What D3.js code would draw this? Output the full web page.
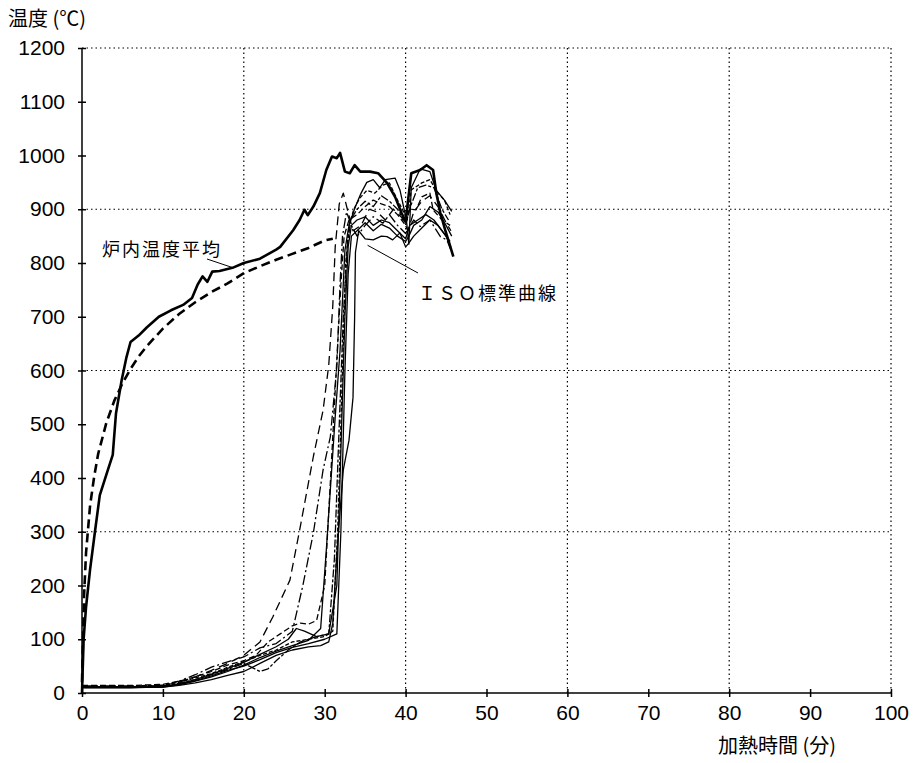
<!DOCTYPE html>
<html><head><meta charset="utf-8">
<script src="https://cdn.jsdelivr.net/npm/d3@7"></script>
<style>body{margin:0;background:#fff}svg{display:block}</style>
</head><body>
<svg id="c" width="924" height="763"></svg>
<script>
const xTicks = [0,10,20,30,40,50,60,70,80,90,100];
const yTicks = [0,100,200,300,400,500,600,700,800,900,1000,1100,1200];
const xGrid = [20,40,60,80,100];
const yGrid = [300,600,900,1200];
const xTitle = "加熱時間 (分)";
const yTitle = "温度 (℃)";
const labelFurnace = "炉内温度平均";
const labelISO = "ＩＳＯ標準曲線";

// 炉内温度平均 (furnace average)
const furnace = [[0,0],[0.2,100],[0.5,160],[1.0,230],[1.6,300],[2.2,368],[3.2,415],[3.8,443],[4.2,520],[4.9,582],[5.5,625],[6.0,653],[7,665],[8,680],[9.5,700],[11,712],[12.5,722],[13.6,735],[14.3,760],[14.9,775],[15.5,765],[16.1,784],[17,785],[18.6,791],[20,800],[22,808],[24,825],[24.5,830],[26.1,861],[26.9,880],[27.5,899],[27.9,889],[28.6,905],[29.4,930],[30.2,973],[30.9,998],[31.5,995],[31.9,1005],[32.5,970],[33.1,967],[33.7,982],[34.4,970],[35.6,970],[36.6,967],[37.7,949],[38.7,923],[39.5,893],[40,877],[40.3,916],[40.7,967],[41.8,973],[42.6,982],[43.4,973],[43.8,930],[44.3,893],[44.9,861],[45.9,812]];

// ISO標準曲線
const iso = [[0,20],[0.25,180],[0.5,261],[1,349],[1.5,402],[2,445],[3,502],[4,544],[5,576],[6,603],[7,626],[8,645],[10,678],[12,705],[14,727],[16,746],[18,762],[20,781],[22,794],[24,806],[26,817],[28,828],[30,842],[31,845]];

// specimen curves
const s1 = [[0,12],[6,12],[10,14],[12,20],[14,30],[16,42],[18,55],[20,70],[22,95],[23.6,142],[25.7,210],[26.9,303],[28.6,440],[29.8,526],[30.5,610],[31,720],[31.3,830],[31.8,910],[32.3,930],[32.8,900],[33.5,860],[34.5,870],[35.5,900],[36.5,895],[37.5,880],[38.5,900],[39.5,885],[40.3,860],[41,895],[42,915],[43,925],[44,905],[45,875],[45.6,860]];
const s2 = [[0,12],[6,12],[10,14],[12,22],[14,34],[16,48],[18,58],[20,67],[22,84],[24,92],[26,115],[27.3,200],[28.6,298],[29.8,415],[30.7,477],[31.5,607],[31.9,762],[32.2,850],[32.7,895],[33.3,870],[34,850],[35,870],[36,886],[37.2,874],[38,890],[39,870],[40,855],[41,880],[41.8,868],[43,880],[44.3,849],[45.1,843],[45.6,824]];
const s3 = [[0,10],[6,10],[10,11],[12,15],[14,22],[16,30],[18,40],[20,52],[22,66],[24,78],[26,88],[28,98],[29.5,120],[30.2,266],[31.3,514],[31.9,638],[32.5,824],[33,870],[33.8,905],[34.5,930],[35.2,950],[36,955],[36.8,940],[37.5,955],[38.7,958],[39.3,936],[40.1,880],[40.4,835],[40.7,940],[41.8,975],[43,970],[43.8,935],[44.8,917],[45.7,896]];
const s4 = [[0,14],[6,14],[10,16],[12,22],[14,30],[16,40],[18,52],[20,60],[21.5,70],[23,95],[24.5,110],[26,125],[27,130],[28,128],[29,135],[30,200],[30.8,420],[31.5,620],[32,760],[32.4,850],[33,880],[34,890],[35,905],[36,917],[37,910],[38,905],[39,890],[40,870],[40.5,900],[41.3,899],[42,923],[43,930],[43.4,899],[44.5,880],[45.5,870]];
const s5 = [[0,10],[6,10],[10,11],[12,14],[14,19],[16,25],[18,33],[20,40],[22,55],[24,70],[26,80],[28,86],[29.5,88],[30.5,95],[31,130],[31.3,210],[31.6,280],[32.3,415],[33,470],[33.5,550],[33.7,700],[33.8,820],[34.2,860],[35,845],[36,843],[37,850],[37.7,849],[38.4,843],[39.3,856],[40,830],[40.3,835],[41,850],[42,865],[43,880],[44,870],[45,850],[45.6,830]];
const s6 = [[0,12],[6,12],[10,13],[12,18],[14,25],[16,34],[18,44],[20,55],[22,40],[23,45],[24,60],[25.5,80],[27,95],[29,105],[30.5,110],[31.2,250],[31.8,500],[32.3,700],[32.8,830],[33.2,880],[34,900],[35,915],[36,905],[37,925],[38,915],[39,900],[40,875],[40.6,905],[41.5,940],[42.5,945],[43.5,940],[44.5,900],[45.3,880]];
const s7 = [[0,11],[6,11],[10,12],[12,17],[14,25],[16,35],[18,46],[20,57],[22,72],[24,86],[25.5,100],[26.5,120],[27.5,115],[29,105],[30.5,110],[31.5,200],[32,450],[32.5,700],[32.9,830],[33.3,870],[34,880],[35,886],[36,870],[37,880],[38,875],[39,860],[40,845],[40.5,870],[41.5,880],[42.5,890],[43.5,880],[44.5,860],[45.5,840]];
const s8 = [[0,13],[6,13],[10,15],[12,20],[14,28],[16,36],[18,48],[20,58],[22,70],[24,80],[26,95],[28,100],[30,105],[31,115],[31.6,300],[32.2,600],[32.6,800],[33,870],[33.6,900],[34.3,920],[35.2,935],[36.2,930],[37.2,945],[38,949],[38.8,923],[39.6,900],[40.2,880],[40.7,936],[42,949],[43,955],[44,930],[44.8,917],[45.5,890]];
const s9 = [[0,10],[6,10],[10,12],[12,16],[14,23],[16,32],[18,42],[20,50],[22,62],[24,75],[26,85],[28,92],[30,100],[31.5,110],[32,300],[32.5,600],[32.9,780],[33.3,850],[34,860],[35,875],[36,860],[37,872],[38,865],[39,850],[40,840],[40.4,850],[41,870],[42,880],[43,905],[44,895],[45,870],[45.7,850]];

const specimens = [
  {d:s1, dash:"9,5"}, {d:s2, dash:"10,3,2,3"}, {d:s3, dash:null}, {d:s4, dash:"6,3"},
  {d:s5, dash:null}, {d:s6, dash:"3,2,8,2"}, {d:s7, dash:null}, {d:s8, dash:"4,2"}, {d:s9, dash:null}
];

const svg = d3.select("#c");
const x = d3.scaleLinear().domain([0,100]).range([82,891]);
const y = d3.scaleLinear().domain([0,1200]).range([693,48]);
const numFont = "'Liberation Sans', Arial, sans-serif";
const cjkFont = "'Noto Sans CJK JP', sans-serif";

// grid
svg.append("g").selectAll("line").data(xGrid).join("line")
  .attr("x1",d=>x(d)).attr("x2",d=>x(d)).attr("y1",y(0)).attr("y2",y(1200))
  .attr("stroke","#000").attr("stroke-width",1.2).attr("stroke-dasharray","1.5,3");
svg.append("g").selectAll("line").data(yGrid).join("line")
  .attr("x1",x(0)).attr("x2",x(100)).attr("y1",d=>y(d)).attr("y2",d=>y(d))
  .attr("stroke","#000").attr("stroke-width",1.2).attr("stroke-dasharray","1.5,3");

// axes
const xAxis = svg.append("g").attr("transform",`translate(0,${y(0)})`)
  .call(d3.axisBottom(x).tickValues(xTicks).tickSize(4).tickPadding(6).tickFormat(d3.format("d")));
xAxis.select(".domain").attr("stroke","#000").attr("stroke-width",1.5).attr("d",`M${x(0)},0H${x(100)}`);
xAxis.selectAll(".tick line").attr("y1",-4).attr("y2",4).attr("stroke-width",1.5);
xAxis.selectAll("text").attr("font-family",numFont).attr("font-size",21).attr("fill","#000").attr("dy","0.8em");

const yAxis = svg.append("g").attr("transform",`translate(${x(0)},0)`)
  .call(d3.axisLeft(y).tickValues(yTicks).tickSize(4).tickPadding(13).tickFormat(d3.format("d")));
yAxis.select(".domain").attr("stroke","#000").attr("stroke-width",1.5).attr("d",`M0,${y(0)}V${y(1200)}`);
yAxis.selectAll(".tick line").attr("x1",-4).attr("x2",4).attr("stroke-width",1.5);
yAxis.selectAll("text").attr("font-family",numFont).attr("font-size",21).attr("fill","#000");

// lines
const line = d3.line().x(d=>x(d[0])).y(d=>y(d[1])).curve(d3.curveLinear);
const sg = svg.append("g").attr("fill","none").attr("stroke","#000");
specimens.forEach(s=>{
  sg.append("path").attr("d",line(s.d)).attr("stroke-width",1.3)
    .attr("stroke-dasharray",s.dash).attr("stroke-linejoin","round");
});
svg.append("path").attr("d",line(iso)).attr("fill","none").attr("stroke","#000")
  .attr("stroke-width",2.6).attr("stroke-dasharray","9,5");
svg.append("path").attr("d",line(furnace)).attr("fill","none").attr("stroke","#000")
  .attr("stroke-width",2.6).attr("stroke-linejoin","round");

// annotations
svg.append("text").attr("x",102).attr("y",256).text(labelFurnace)
  .attr("font-family",cjkFont).attr("font-size",18).attr("letter-spacing",2);
svg.append("line").attr("x1",207).attr("y1",259).attr("x2",x(18.7)).attr("y2",y(791))
  .attr("stroke","#000").attr("stroke-width",1);
svg.append("text").attr("x",418).attr("y",300).text(labelISO)
  .attr("font-family",cjkFont).attr("font-size",18).attr("letter-spacing",2);
svg.append("line").attr("x1",x(35.3)).attr("y1",y(833)).attr("x2",418).attr("y2",273)
  .attr("stroke","#000").attr("stroke-width",1);

// titles
svg.append("text").attr("x",8).attr("y",26).text(yTitle)
  .attr("font-family",cjkFont).attr("font-size",20);
svg.append("text").attr("x",718).attr("y",753).text(xTitle)
  .attr("font-family",cjkFont).attr("font-size",20);
</script>
</body></html>
